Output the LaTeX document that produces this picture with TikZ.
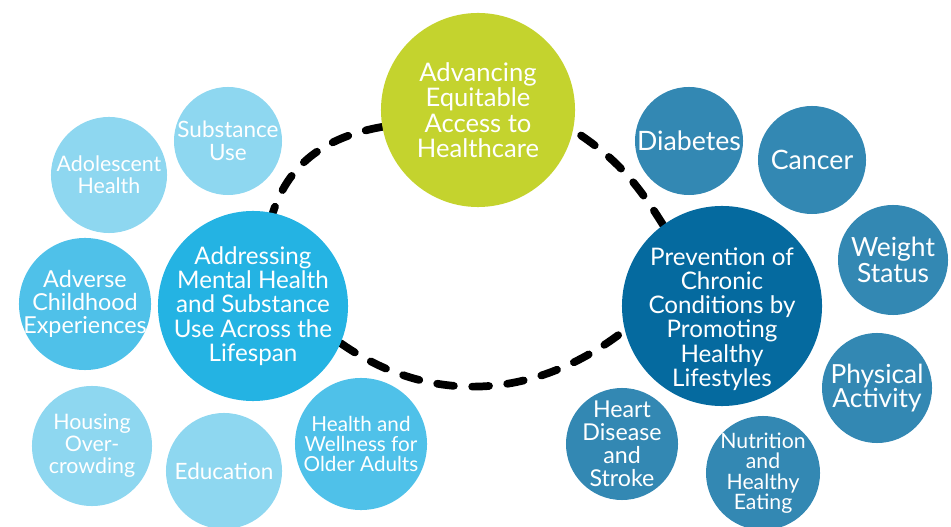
\documentclass[tikz,border=0pt]{standalone}
\usepackage{fontspec}
\setmainfont{Lato}
\usepackage{tikz}
\usetikzlibrary{backgrounds}
\definecolor{lime}{HTML}{C4D32E}
\definecolor{skyblue}{HTML}{24B3E3}
\definecolor{paleblue}{HTML}{8ED7F0}
\definecolor{midblue}{HTML}{4FC1E9}
\definecolor{deepblue}{HTML}{056A9F}
\definecolor{steelblue}{HTML}{3388B3}
\tikzstyle{bubble} = [circle, inner sep=-1cm, text=white, align=center, font=\fontsize{16}{16}\selectfont]
\tikzstyle{hub} = [bubble, font=\fontsize{17.2}{17.2}\selectfont]
\tikzstyle{ring} = [line width=5.5pt, line cap=round, dash pattern=on 12pt off 13pt]

\begin{document}
\begin{tikzpicture}[x=0.025cm, y=0.025cm]
\useasboundingbox (0,0) rectangle (951,526);

% the three priorities
\node (access) [hub, fill=lime, minimum size=4.85cm, font=\fontsize{18.2}{18.1}\selectfont] at (478,416) {Advancing\\Equitable\\Access to\\Healthcare};
\node (mental) [hub, fill=skyblue, minimum size=4.75cm] at (253,220) {Addressing\\Mental Health\\and Substance\\Use Across the\\Lifespan};
\node (prevent) [hub, fill=deepblue, minimum size=5cm] at (722,220) {\rule{0pt}{31pt}Prevention of\\Chronic\\Conditions by\\Promoting\\Healthy\\Lifestyles};

% mental health topics
\node (subst) [bubble, fill=paleblue, minimum size=2.7cm] at (228,385) {Substance\\Use};
\node (adol) [bubble, fill=paleblue, minimum size=2.9cm, font=\fontsize{15.2}{15.8}\selectfont] at (109,351) {Adolescent\\Health};
\node (ace) [bubble, fill=midblue, minimum size=3.3cm, font=\fontsize{16.6}{16.4}\selectfont] at (85,222) {Adverse\\Childhood\\Experiences};
\node (housing) [bubble, fill=paleblue, minimum size=3cm, font=\fontsize{15.2}{15.6}\selectfont] at (92,80) {Housing\\Over-\\crowding};
\node (edu) [bubble, fill=paleblue, minimum size=2.9cm] at (224,55) {Education};
\node (older) [bubble, fill=midblue, minimum size=3.3cm, font=\fontsize{14.7}{13.9}\selectfont] at (361,82) {Health and\\Wellness for\\Older Adults};

% chronic condition topics
\node (diab) [bubble, fill=steelblue, minimum size=2.7cm, font=\fontsize{19}{19}\selectfont] at (689,385) {Diabetes};
\node (cancer) [bubble, fill=steelblue, minimum size=2.7cm, font=\fontsize{19}{19}\selectfont] at (812,366) {Cancer};
\node (weight) [bubble, fill=steelblue, minimum size=2.75cm, font=\fontsize{18.8}{18.5}\selectfont] at (893,266) {Weight\\Status};
\node (phys) [bubble, fill=steelblue, minimum size=2.75cm, font=\fontsize{18.7}{17.3}\selectfont] at (877,138) {Physical\\Activity};
\node (heart) [bubble, fill=steelblue, minimum size=2.8cm, font=\fontsize{16.5}{16.4}\selectfont] at (622,82) {Heart\\Disease\\and\\Stroke};
\node (nutri) [bubble, fill=steelblue, minimum size=2.85cm, font=\fontsize{15.1}{14.5}\selectfont] at (763,53) {Nutrition\\and\\Healthy\\Eating};

% dashed loop between the priorities
\begin{scope}[on background layer]
\draw [ring] (access.190) to[out=190, in=72] (mental.78);
\draw [ring] (mental.-23) to[out=-35, in=218] (prevent.194);
\draw [ring] (prevent.126) to[out=122, in=-33] (access.-12);
\end{scope}

\end{tikzpicture}
\end{document}
